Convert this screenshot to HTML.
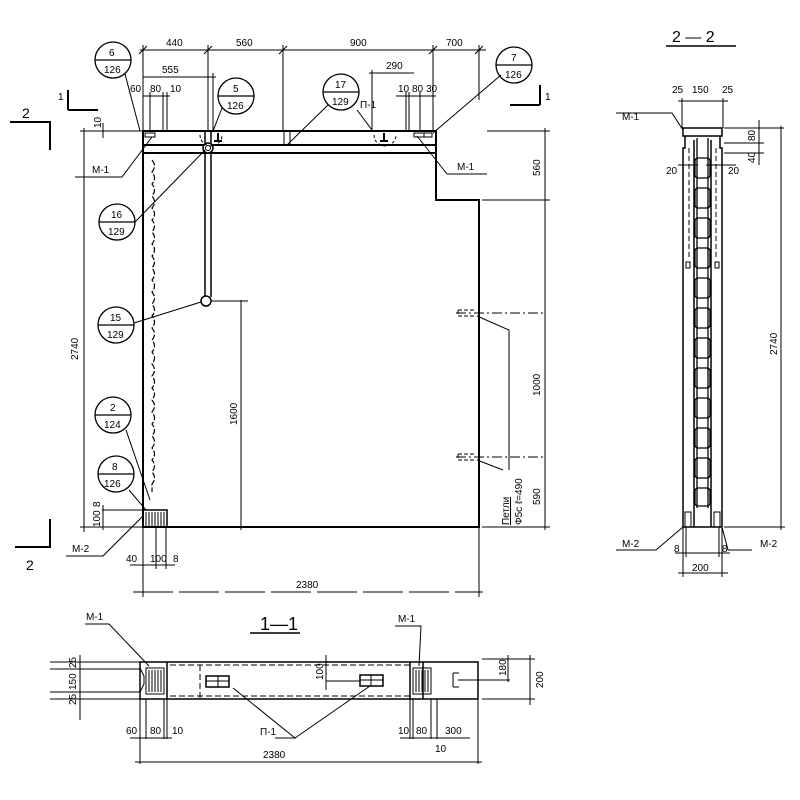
<!DOCTYPE html>
<html><head><meta charset="utf-8"><style>
html,body{margin:0;padding:0;background:#fff}
svg{display:block}
text{font-family:"Liberation Sans Narrow","Liberation Sans",sans-serif;font-size:10px;fill:#000;stroke:none}
</style></head><body>
<svg width="800" height="800" viewBox="0 0 800 800" stroke="#000" fill="none" stroke-width="1">
<!-- ===== PLAN VIEW ===== -->
<g stroke-width="2">
<path d="M143,131 L436,131 L436,200 L479,200 L479,527 L143,527 Z"/>
<line x1="143" y1="145" x2="436" y2="145"/>
<line x1="143" y1="153" x2="436" y2="153"/>
</g>
<line x1="290" y1="131" x2="290" y2="145"/>
<line x1="284" y1="131" x2="284" y2="145"/>
<line x1="205" y1="131" x2="205" y2="297" stroke-width="1.5"/>
<line x1="211" y1="131" x2="211" y2="297" stroke-width="1.5"/>
<circle cx="208" cy="148" r="5" fill="#fff" stroke-width="1.5"/>
<circle cx="208" cy="148" r="2.5"/>
<circle cx="206" cy="301" r="5" fill="#fff" stroke-width="1.5"/>
<path d="M152,160 q5,6 0,12 q5,6 0,12 q5,6 0,12 q5,6 0,12 q5,6 0,12 q5,6 0,12 q5,6 0,12 q5,6 0,12 q5,6 0,12 q5,6 0,12 q5,6 0,12 q5,6 0,12 q5,6 0,12 q5,6 0,12 q5,6 0,12 q5,6 0,12 q5,6 0,12 q5,6 0,12 q5,6 0,12 q5,6 0,12 q5,6 0,12 q5,6 0,12 q5,6 0,12 q5,6 0,12 q5,6 0,12 q5,6 0,12 q5,6 0,12 l0,8" stroke-dasharray="6,2" stroke-width="1.2"/>
<rect x="143" y="510" width="24" height="17" stroke-width="1.5"/>
<path d="M146,512v14M149,512v14M152,512v14M155,512v14M158,512v14M161,512v14M164,512v14"/>
<rect x="145" y="133" width="10" height="4"/><rect x="414" y="133" width="10" height="4"/><rect x="424" y="133" width="8" height="4"/>
<path d="M218,133 v8 M214,141 h8" stroke-width="2"/><path d="M384,133 v8 M380,141 h8" stroke-width="2"/>
<path d="M200,135 a8,8 0 0 0 22,0" stroke-dasharray="3,2"/>
<path d="M374,135 a8,8 0 0 0 22,0" stroke-dasharray="3,2"/>
<path d="M458,310 h18 M458,316 h18 M458,310 v6" stroke-dasharray="4,2"/>
<path d="M458,454 h18 M458,460 h18 M458,454 v6" stroke-dasharray="4,2"/>
<line x1="456" y1="313" x2="545" y2="313" stroke-dasharray="10,3,2,3"/>
<line x1="456" y1="457" x2="545" y2="457" stroke-dasharray="10,3,2,3"/>
<path d="M477,316 L509,330 L509,470"/><path d="M477,460 L503,470"/>
<line x1="140" y1="50" x2="486" y2="50"/>
<path d="M143,45v85 M208,45v85 M283,45v85 M433,45v85 M479,45v55"/>
<path d="M139,54l8,-8M204,54l8,-8M279,54l8,-8M429,54l8,-8M475,54l8,-8"/>
<text x="166" y="46">440</text><text x="236" y="46">560</text><text x="350" y="46">900</text><text x="446" y="46">700</text>
<line x1="143" y1="77" x2="216" y2="77"/><line x1="213" y1="73" x2="213" y2="131"/><text x="162" y="73">555</text>
<line x1="369" y1="73" x2="414" y2="73"/><line x1="372" y1="70" x2="372" y2="131"/><text x="386" y="69">290</text>
<line x1="143" y1="96" x2="170" y2="96"/><path d="M150,92v39M163,92v39M167,92v39"/>
<text x="130" y="92">60</text><text x="150" y="92">80</text><text x="170" y="92">10</text>
<line x1="396" y1="96" x2="436" y2="96"/><path d="M406,92v39M409,92v39M420,92v39"/>
<text x="398" y="92">10</text><text x="412" y="92">80</text><text x="426" y="92">30</text>
<line x1="84" y1="128" x2="84" y2="532"/><line x1="80" y1="131" x2="143" y2="131"/><line x1="80" y1="527" x2="143" y2="527"/>
<text transform="translate(78,360) rotate(-90)">2740</text>
<line x1="103" y1="123" x2="103" y2="138"/><text transform="translate(101,128) rotate(-90)">10</text>
<line x1="102" y1="510" x2="143" y2="510"/><line x1="103" y1="505" x2="103" y2="530"/>
<text transform="translate(100,527) rotate(-90)">100</text><text transform="translate(100,507) rotate(-90)">8</text>
<line x1="241" y1="300" x2="241" y2="530"/><line x1="211" y1="301" x2="248" y2="301"/>
<text transform="translate(237,425) rotate(-90)">1600</text>
<line x1="545" y1="128" x2="545" y2="530"/><line x1="487" y1="131" x2="550" y2="131"/><line x1="482" y1="200" x2="550" y2="200"/><line x1="482" y1="527" x2="550" y2="527"/>
<text transform="translate(540,176) rotate(-90)">560</text><text transform="translate(540,396) rotate(-90)">1000</text><text transform="translate(540,505) rotate(-90)">590</text>
<text transform="translate(509,525) rotate(-90)" style="text-decoration:underline">Петли</text>
<text transform="translate(522,525) rotate(-90)">Ф5с ℓ=490</text>
<line x1="133" y1="592" x2="483" y2="592" stroke-dasharray="40,6"/>
<path d="M143,527v70M479,527v70"/>
<text x="296" y="588">2380</text>
<line x1="130" y1="565" x2="175" y2="565"/><path d="M143,527v42M156,527v42M166,527v42"/>
<text x="126" y="562">40</text><text x="150" y="562">100</text><text x="173" y="562">8</text>
<path d="M10,122h40v28" stroke-width="2"/><text x="22" y="118" style="font-size:14px">2</text>
<path d="M15,547h35v-28" stroke-width="2"/><text x="26" y="570" style="font-size:14px">2</text>
<path d="M68,110h30M68,110v-20" stroke-width="2"/><text x="58" y="100">1</text>
<path d="M510,105h30M540,105v-20" stroke-width="2"/><text x="545" y="100">1</text>
<g stroke-width="1.3">
<circle cx="113" cy="60" r="18"/><line x1="95" y1="60" x2="131" y2="60"/>
<circle cx="236" cy="96" r="18"/><line x1="218" y1="96" x2="254" y2="96"/>
<circle cx="341" cy="92" r="18"/><line x1="323" y1="92" x2="359" y2="92"/>
<circle cx="514" cy="65" r="18"/><line x1="496" y1="65" x2="532" y2="65"/>
<circle cx="117" cy="222" r="18"/><line x1="99" y1="222" x2="135" y2="222"/>
<circle cx="116" cy="325" r="18"/><line x1="98" y1="325" x2="134" y2="325"/>
<circle cx="113" cy="415" r="18"/><line x1="95" y1="415" x2="131" y2="415"/>
<circle cx="116" cy="474" r="18"/><line x1="98" y1="474" x2="134" y2="474"/>
</g>
<path d="M125,74L140,131M222,108L213,131M328,105L287,145M501,75L433,133M135,222L205,150M134,323L201,302M126,430L150,500M129,490L146,510"/>
<text x="109" y="56">6</text><text x="104" y="73">126</text>
<text x="233" y="92">5</text><text x="227" y="109">126</text>
<text x="335" y="88">17</text><text x="332" y="105">129</text>
<text x="511" y="61">7</text><text x="505" y="78">126</text>
<text x="111" y="218">16</text><text x="108" y="235">129</text>
<text x="110" y="321">15</text><text x="107" y="338">129</text>
<text x="110" y="411">2</text><text x="104" y="428">124</text>
<text x="112" y="470">8</text><text x="104" y="487">126</text>
<path d="M75,177h47l30,-40"/><text x="92" y="173">М-1</text>
<path d="M447,174h40M447,174l-30,-38"/><text x="457" y="170">М-1</text>
<path d="M66,556h37l40,-40"/><text x="72" y="552">М-2</text>
<path d="M357,110l15,20" /><text x="360" y="108">П-1</text>
<!-- ===== SECTION 1-1 ===== -->
<text x="260" y="630" style="font-size:18px">1—1</text><line x1="250" y1="633" x2="300" y2="633" stroke-width="1.5"/>
<g stroke-width="1.5"><rect x="140" y="662" width="338" height="37"/><line x1="167" y1="662" x2="167" y2="699"/><line x1="410" y1="662" x2="410" y2="699"/><line x1="423" y1="662" x2="423" y2="699"/></g>
<path d="M170,665h240M170,696h240M200,665v34" stroke-dasharray="6,3"/>
<rect x="146" y="668" width="18" height="26"/><path d="M149,670v22M152,670v22M155,670v22M158,670v22M161,670v22"/>
<rect x="413" y="668" width="18" height="26"/><path d="M416,670v22M419,670v22M422,670v22M425,670v22M428,670v22"/>
<path d="M140,668l4,8v8l-4,8" />
<rect x="206" y="676" width="23" height="11" stroke-width="1.5"/><line x1="206" y1="681" x2="229" y2="681"/><line x1="218" y1="676" x2="218" y2="687"/>
<rect x="360" y="675" width="23" height="11" stroke-width="1.5"/><line x1="360" y1="680" x2="383" y2="680"/><line x1="371" y1="675" x2="371" y2="686"/>
<path d="M453,673v14M453,673h6M453,687h6"/>
<line x1="326" y1="655" x2="326" y2="690"/><line x1="326" y1="681" x2="360" y2="681"/><text transform="translate(323,680) rotate(-90)">100</text>
<line x1="458" y1="680" x2="510" y2="680"/><line x1="508" y1="655" x2="508" y2="682"/><text transform="translate(506,676) rotate(-90)">180</text>
<line x1="530" y1="655" x2="530" y2="705"/><line x1="482" y1="659" x2="535" y2="659"/><line x1="482" y1="699" x2="535" y2="699"/><text transform="translate(543,688) rotate(-90)">200</text>
<path d="M50,662h90M50,669h90M50,692h90M50,699h90M80,655v65"/>
<text transform="translate(76,668) rotate(-90)">25</text><text transform="translate(76,690) rotate(-90)">150</text><text transform="translate(76,705) rotate(-90)">25</text>
<path d="M85,624h24l40,42"/><text x="86" y="620">М-1</text>
<path d="M395,626h26l-2,40"/><text x="398" y="622">М-1</text>
<path d="M275,738h20l-62,-50M295,738l75,-52"/><text x="260" y="735">П-1</text>
<path d="M140,699v65M478,699v65M146,699v40M164,699v40M167,699v40M410,699v40M413,699v40M431,699v40M437,699v40"/>
<line x1="130" y1="738" x2="172" y2="738"/><line x1="400" y1="738" x2="470" y2="738"/>
<text x="126" y="734">60</text><text x="150" y="734">80</text><text x="172" y="734">10</text>
<text x="398" y="734">10</text><text x="416" y="734">80</text><text x="445" y="734">300</text><text x="435" y="752">10</text>
<line x1="135" y1="762" x2="482" y2="762"/><text x="263" y="758">2380</text>
<!-- ===== SECTION 2-2 ===== -->
<text x="672" y="42" style="font-size:16px">2 — 2</text><line x1="666" y1="46" x2="736" y2="46" stroke-width="1.5"/>
<g stroke-width="1.5">
<rect x="683" y="128" width="39" height="8"/>
<path d="M685,136v12h-2v379M720,136v12h2v379"/>
<line x1="683" y1="527" x2="722" y2="527"/>
<line x1="694" y1="140" x2="694" y2="527"/><line x1="711" y1="140" x2="711" y2="527"/>
</g>
<path d="M689,148v110M716,148v110" stroke-dasharray="5,3"/>
<rect x="686" y="262" width="4" height="6"/><rect x="715" y="262" width="4" height="6"/>
<g stroke-width="1.3">
<path d="M697,138v370M708,138v370"/>
<rect x="695" y="158" width="15" height="20" rx="3"/><rect x="695" y="188" width="15" height="20" rx="3"/><rect x="695" y="218" width="15" height="20" rx="3"/><rect x="695" y="248" width="15" height="20" rx="3"/><rect x="695" y="278" width="15" height="20" rx="3"/><rect x="695" y="308" width="15" height="20" rx="3"/><rect x="695" y="338" width="15" height="20" rx="3"/><rect x="695" y="368" width="15" height="20" rx="3"/><rect x="695" y="398" width="15" height="20" rx="3"/><rect x="695" y="428" width="15" height="20" rx="3"/><rect x="695" y="458" width="15" height="20" rx="3"/><rect x="695" y="488" width="15" height="18" rx="3"/>
</g>
<rect x="685" y="512" width="6" height="15"/><rect x="714" y="512" width="6" height="15"/>
<path d="M682,98v30M723,98v30M678,101h50"/><text x="672" y="93">25</text><text x="692" y="93">150</text><text x="722" y="93">25</text>
<path d="M616,113h56l11,17"/><text x="622" y="120">М-1</text>
<path d="M724,128h60M724,143h40M724,153h40M759,120v45"/><text transform="translate(755,141) rotate(-90)">80</text><text transform="translate(755,163) rotate(-90)">40</text>
<path d="M678,165h20M706,165h30"/><text x="666" y="174">20</text><text x="728" y="174">20</text>
<line x1="781" y1="126" x2="781" y2="530"/><line x1="724" y1="527" x2="785" y2="527"/><text transform="translate(777,355) rotate(-90)">2740</text>
<path d="M616,550h40l27,-23"/><text x="622" y="547">М-2</text>
<path d="M752,550h-24l-6,-23"/><text x="760" y="547">М-2</text>
<path d="M683,527v50M722,527v50M686,527v30M719,527v30M675,553h55M678,573h50"/>
<text x="674" y="552">8</text><text x="722" y="552">8</text><text x="692" y="571">200</text>
</svg>
</body></html>
